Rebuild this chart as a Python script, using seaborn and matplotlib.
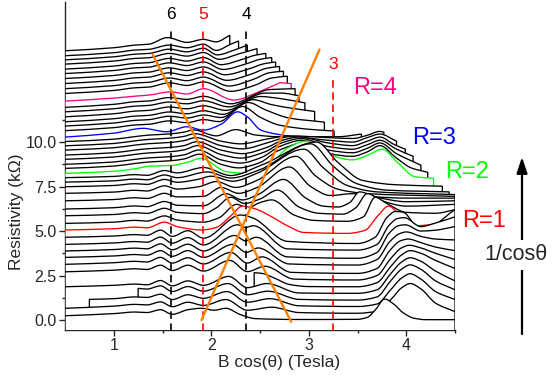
import numpy as np
import matplotlib
matplotlib.use('Agg')
import matplotlib.pyplot as plt
from matplotlib.path import Path
from matplotlib.patches import PathPatch
import seaborn as sns

sns.set_style('ticks')
plt.rcParams['font.family'] = ['Liberation Sans', 'DejaVu Sans']

# waterfall traces, bottom (theta = 0) to top, knots: (B cos(theta), rho + offset)
t01 = [(0.5, .24), (1.0, .36), (1.22, .45), (1.34, .42), (1.48, .58), (1.6, .32), (1.76, .58), (1.9, .66), (2.03, .55), (2.15, .66), (2.3, .3), (2.45, .08), (2.9, .03), (3.5, .04), (3.6, .15), (3.68, .55), (3.78, 1.18), (3.87, .9), (3.97, .4), (4.08, .1), (4.2, .02), (4.5, .02)]
t02 = [(0.5, .66), (1.0, .78), (1.22, .88), (1.34, .85), (1.48, 1.02), (1.6, .75), (1.76, 1.0), (1.92, .82), (2.15, 1.15), (2.37, .55), (2.62, .72), (2.9, .42), (3.5, .38), (3.7, .5), (3.85, 1.2), (3.95, 1.8), (4.04, 2.05), (4.15, 1.75), (4.3, .95), (4.5, .47)]
t03 = [(0.75, 1.16), (1.0, 1.2), (1.22, 1.3), (1.34, 1.27), (1.48, 1.45), (1.6, 1.15), (1.76, 1.42), (1.92, 1.22), (2.16, 1.6), (2.37, 1.0), (2.6, 1.2), (2.9, .8), (3.5, .76), (3.7, .9), (3.84, 1.7), (3.95, 2.35), (4.04, 2.6), (4.15, 2.3), (4.3, 1.6), (4.5, 1.15)]
t04 = [(1.25, 1.78), (1.34, 1.74), (1.48, 1.92), (1.6, 1.6), (1.76, 1.88), (1.92, 1.62), (2.17, 2.05), (2.37, 1.42), (2.58, 1.62), (2.9, 1.16), (3.5, 1.12), (3.7, 1.3), (3.84, 2.2), (3.95, 2.85), (4.04, 3.1), (4.15, 2.85), (4.3, 2.2), (4.5, 1.7)]
t05 = [(0.5, 1.87), (1.0, 1.95), (1.22, 2.02), (1.34, 1.98), (1.48, 2.22), (1.6, 1.92), (1.76, 2.2), (1.92, 1.95), (2.18, 2.45), (2.37, 1.82), (2.57, 2.05), (2.9, 1.52), (3.5, 1.5), (3.7, 1.7), (3.84, 2.6), (3.95, 3.25), (4.04, 3.5), (4.15, 3.3), (4.3, 2.75), (4.5, 2.2)]
t05b = [(2.44, 2.66), (2.52, 2.62), (2.65, 2.35), (2.8, 2.0), (3.0, 1.88), (3.5, 1.87), (3.7, 2.1), (3.84, 3.0), (3.95, 3.65), (4.04, 3.9), (4.15, 3.75), (4.3, 3.35), (4.5, 2.9)]
t06 = [(0.5, 2.71), (1.0, 2.8), (1.22, 2.88), (1.34, 2.84), (1.48, 3.08), (1.6, 2.78), (1.76, 3.08), (1.92, 2.75), (2.19, 3.35), (2.37, 2.72), (2.55, 3.02), (2.85, 2.3), (3.5, 2.25), (3.7, 2.5), (3.84, 3.45), (3.95, 4.05), (4.03, 4.2), (4.15, 4.05), (4.3, 3.75), (4.5, 3.4)]
t07 = [(0.5, 3.13), (1.0, 3.22), (1.22, 3.3), (1.34, 3.26), (1.48, 3.52), (1.6, 3.2), (1.76, 3.5), (1.92, 3.15), (2.2, 3.8), (2.37, 3.2), (2.52, 3.55), (2.82, 2.68), (3.5, 2.62), (3.7, 2.9), (3.83, 3.9), (3.94, 4.45), (4.02, 4.55), (4.15, 4.35), (4.3, 4.1), (4.5, 3.9)]
t08 = [(0.5, 3.52), (1.0, 3.6), (1.22, 3.68), (1.34, 3.64), (1.48, 3.9), (1.6, 3.58), (1.76, 3.9), (1.92, 3.52), (2.22, 4.25), (2.36, 3.8), (2.48, 4.05), (2.8, 3.15), (3.5, 3.09), (3.7, 3.4), (3.83, 4.4), (3.93, 4.85), (4.0, 4.95), (4.15, 4.7), (4.3, 4.55), (4.5, 4.5)]
t09 = [(0.5, 3.88), (1.0, 3.96), (1.22, 4.04), (1.34, 4.0), (1.48, 4.28), (1.6, 3.95), (1.76, 4.26), (1.92, 3.88), (2.24, 4.75), (2.35, 4.45), (2.46, 4.65), (2.78, 3.55), (3.5, 3.47), (3.7, 3.8), (3.82, 4.85), (3.92, 5.3), (3.99, 5.35), (4.15, 5.0), (4.3, 5.05), (4.5, 5.25)]
t10 = [(0.5, 4.25), (1.0, 4.33), (1.22, 4.41), (1.34, 4.37), (1.48, 4.66), (1.6, 4.32), (1.76, 4.63), (1.92, 4.22), (2.27, 5.35), (2.35, 5.2), (2.43, 5.3), (2.78, 4.0), (3.5, 3.93), (3.7, 4.25), (3.82, 5.3), (3.91, 5.7), (3.98, 5.75), (4.15, 5.25), (4.3, 5.45), (4.5, 5.8)]
t11 = [(0.5, 4.65), (1.0, 4.72), (1.22, 4.8), (1.34, 4.76), (1.48, 5.05), (1.6, 4.7), (1.76, 5.02), (1.92, 4.6), (2.3, 5.9), (2.42, 5.75), (2.78, 4.42), (3.5, 4.3), (3.68, 4.65), (3.8, 5.75), (3.89, 6.1), (3.97, 6.05), (4.15, 5.0), (4.5, 6.2)]
t12 = [(0.5, 5.06), (1.0, 5.13), (1.22, 5.22), (1.34, 5.18), (1.52, 5.5), (1.65, 5.25), (1.9, 5.06), (2.05, 5.2), (2.2, 5.85), (2.32, 6.4), (2.45, 6.25), (2.62, 5.8), (2.78, 5.3), (2.95, 4.92), (3.4, 4.87), (3.58, 5.05), (3.7, 5.8), (3.82, 6.4), (3.92, 6.0), (4.1, 5.3), (4.3, 5.4), (4.5, 5.75)]
t13 = [(0.5, 5.43), (1.0, 5.5), (1.22, 5.6), (1.34, 5.56), (1.52, 5.85), (1.65, 5.62), (1.92, 5.5), (2.08, 5.75), (2.26, 6.5), (2.37, 6.3), (2.5, 6.6), (2.62, 6.75), (2.85, 5.9), (3.05, 5.6), (3.4, 5.55), (3.56, 5.8), (3.68, 6.9), (3.8, 6.55), (4.0, 6.05), (4.3, 6.0), (4.5, 6.2)]
t14 = [(0.5, 5.86), (1.0, 5.93), (1.22, 6.03), (1.34, 5.99), (1.52, 6.28), (1.65, 6.05), (1.92, 5.98), (2.05, 6.3), (2.2, 6.9), (2.34, 6.55), (2.5, 6.8), (2.68, 7.3), (2.9, 6.35), (3.1, 6.0), (3.35, 5.95), (3.48, 6.3), (3.6, 7.1), (3.75, 6.7), (4.0, 6.4), (4.5, 6.5)]
t15 = [(0.5, 6.24), (1.0, 6.31), (1.22, 6.41), (1.34, 6.37), (1.52, 6.66), (1.65, 6.45), (1.92, 6.42), (2.15, 7.1), (2.32, 6.75), (2.48, 7.05), (2.74, 7.9), (2.97, 6.85), (3.15, 6.4), (3.3, 6.35), (3.42, 6.6), (3.52, 7.2), (3.7, 6.9), (4.0, 6.65), (4.5, 6.7)]
t16 = [(0.5, 6.7), (1.0, 6.77), (1.22, 6.87), (1.34, 6.83), (1.52, 7.12), (1.65, 6.92), (1.92, 6.95), (2.1, 7.45), (2.28, 7.12), (2.47, 7.45), (2.8, 8.6), (3.02, 7.5), (3.22, 7.0), (3.45, 7.1), (3.62, 6.95), (4.0, 6.85), (4.5, 6.85)]
t17 = [(0.5, 7.12), (1.0, 7.19), (1.22, 7.29), (1.34, 7.25), (1.52, 7.54), (1.65, 7.36), (1.88, 7.5), (2.05, 7.78), (2.25, 7.45), (2.47, 7.85), (2.87, 9.2), (3.07, 8.1), (3.3, 7.35), (3.6, 7.1), (4.5, 6.95)]
t18 = [(0.5, 7.49), (1.0, 7.56), (1.22, 7.66), (1.34, 7.62), (1.52, 7.9), (1.65, 7.74), (1.86, 7.9), (2.0, 8.08), (2.22, 7.8), (2.47, 8.25), (2.95, 9.6), (3.15, 8.55), (3.4, 7.55), (3.7, 7.2), (4.5, 7.05)]
t19 = [(0.5, 7.75), (1.0, 7.82), (1.22, 7.92), (1.34, 7.88), (1.52, 8.15), (1.65, 8.0), (1.96, 8.32), (2.2, 7.98), (2.5, 8.45), (3.02, 9.9), (3.25, 8.65), (3.5, 7.65), (3.8, 7.3), (4.44, 7.2)]
t20 = [(0.5, 8.0), (1.0, 8.07), (1.22, 8.17), (1.34, 8.13), (1.52, 8.4), (1.65, 8.27), (1.92, 8.57), (2.2, 8.12), (2.52, 8.72), (3.08, 10.0), (3.3, 8.85), (3.55, 7.85), (3.9, 7.6), (4.37, 7.52)]
t21 = [(0.5, 8.24), (1.0, 8.36), (1.22, 8.5), (1.37, 8.65), (1.58, 8.68), (1.75, 8.85), (1.89, 9.08), (2.16, 8.33), (2.37, 8.24), (2.65, 9.0), (2.78, 9.65), (2.97, 10.05), (3.2, 9.3), (3.45, 9.0), (3.62, 9.3), (3.75, 9.6), (3.92, 8.8), (4.09, 8.05), (4.28, 7.97)]
t22 = [(0.5, 8.52), (1.0, 8.65), (1.22, 8.8), (1.36, 8.88), (1.58, 8.95), (1.72, 9.05), (1.88, 9.32), (2.1, 8.75), (2.28, 8.55), (2.5, 8.85), (2.68, 9.5), (2.95, 9.95), (3.2, 9.35), (3.45, 9.2), (3.6, 9.45), (3.73, 9.8), (3.9, 9.1), (4.05, 8.55), (4.22, 8.3)]
t23 = [(0.5, 8.75), (1.0, 8.88), (1.22, 9.03), (1.36, 9.11), (1.58, 9.18), (1.72, 9.28), (1.87, 9.55), (2.1, 9.0), (2.3, 8.82), (2.52, 9.15), (2.7, 9.75), (2.93, 10.1), (3.2, 9.55), (3.45, 9.4), (3.6, 9.65), (3.73, 9.95), (3.9, 9.35), (4.15, 8.7)]
t24 = [(0.5, 9.03), (1.0, 9.16), (1.22, 9.31), (1.36, 9.39), (1.58, 9.46), (1.72, 9.56), (1.86, 9.8), (2.1, 9.3), (2.3, 9.1), (2.55, 9.45), (2.72, 9.95), (2.92, 10.2), (3.2, 9.75), (3.45, 9.6), (3.6, 9.85), (3.73, 10.1), (3.9, 9.6), (4.07, 9.2)]
t25 = [(0.5, 9.27), (1.0, 9.4), (1.22, 9.55), (1.36, 9.63), (1.58, 9.7), (1.72, 9.8), (1.85, 10.02), (2.1, 9.55), (2.32, 9.35), (2.57, 9.7), (2.74, 10.12), (2.9, 10.28), (3.2, 9.95), (3.45, 9.8), (3.6, 10.05), (3.73, 10.28), (3.88, 9.85), (3.99, 9.6)]
t26 = [(0.5, 9.55), (1.0, 9.68), (1.22, 9.83), (1.36, 9.91), (1.58, 9.98), (1.72, 10.08), (1.84, 10.25), (2.1, 9.8), (2.32, 9.62), (2.6, 10.0), (2.8, 10.3), (3.2, 10.1), (3.45, 10.0), (3.6, 10.25), (3.73, 10.45), (3.9, 10.05)]
t27 = [(0.5, 9.79), (1.0, 9.92), (1.22, 10.07), (1.36, 10.15), (1.58, 10.22), (1.72, 10.32), (1.83, 10.47), (2.1, 10.05), (2.3, 9.9), (2.6, 10.2), (2.8, 10.35), (3.2, 10.25), (3.45, 10.2), (3.6, 10.38), (3.73, 10.6), (3.77, 10.55)]
t28 = [(0.5, 10.03), (1.0, 10.16), (1.22, 10.31), (1.36, 10.39), (1.58, 10.46), (1.72, 10.56), (1.82, 10.68), (2.05, 10.35), (2.25, 10.7), (2.45, 10.4), (2.7, 10.3), (3.0, 10.3), (3.3, 10.3), (3.54, 10.45)]
t29 = [(0.5, 10.28), (1.0, 10.5), (1.3, 10.77), (1.54, 10.58), (1.75, 10.86), (1.92, 10.67), (2.1, 11.0), (2.27, 11.7), (2.37, 11.42), (2.51, 10.67), (2.82, 10.3), (2.95, 10.15), (3.35, 10.1)]
t30 = [(0.5, 10.64), (1.0, 10.81), (1.22, 10.96), (1.36, 11.0), (1.57, 11.19), (1.75, 11.09), (1.92, 11.26), (2.08, 11.15), (2.32, 12.0), (2.5, 11.4), (2.7, 10.95), (3.0, 10.72), (3.26, 10.62)]
t31 = [(0.5, 10.9), (1.0, 11.07), (1.22, 11.22), (1.36, 11.26), (1.57, 11.45), (1.75, 11.35), (1.92, 11.52), (2.1, 11.38), (2.38, 12.22), (2.56, 11.8), (2.8, 11.35), (3.16, 11.12)]
t32 = [(0.5, 11.14), (1.0, 11.31), (1.22, 11.46), (1.36, 11.5), (1.57, 11.69), (1.75, 11.59), (1.92, 11.76), (2.12, 11.56), (2.43, 12.38), (2.62, 12.1), (2.85, 11.88), (3.06, 11.72)]
t33 = [(0.5, 11.42), (1.0, 11.59), (1.22, 11.74), (1.36, 11.78), (1.57, 11.97), (1.75, 11.87), (1.92, 12.04), (2.15, 11.78), (2.5, 12.56), (2.7, 12.45), (2.96, 12.2)]
t34 = [(0.5, 11.7), (1.0, 11.87), (1.22, 12.02), (1.36, 12.06), (1.57, 12.25), (1.75, 12.15), (1.92, 12.32), (2.18, 11.98), (2.55, 12.75), (2.72, 12.75), (2.9, 12.6)]
t35 = [(0.5, 11.95), (1.0, 12.12), (1.22, 12.27), (1.36, 12.31), (1.57, 12.5), (1.75, 12.4), (1.92, 12.57), (2.2, 12.15), (2.6, 12.95), (2.86, 13.0)]
t36 = [(0.5, 12.3), (1.0, 12.47), (1.22, 12.58), (1.36, 12.64), (1.58, 12.82), (1.75, 12.7), (1.92, 13.0), (2.23, 12.36), (2.5, 12.85), (2.65, 13.2), (2.71, 13.33), (2.82, 13.28)]
t37 = [(0.5, 12.73), (1.0, 12.9), (1.22, 13.05), (1.36, 13.09), (1.57, 13.33), (1.75, 13.18), (1.92, 13.38), (2.2, 12.85), (2.45, 13.2), (2.62, 13.6), (2.78, 13.7)]
t38 = [(0.5, 13.0), (1.0, 13.17), (1.22, 13.32), (1.36, 13.36), (1.57, 13.6), (1.75, 13.45), (1.92, 13.65), (2.18, 13.15), (2.42, 13.5), (2.6, 13.9), (2.74, 13.98)]
t39 = [(0.5, 13.29), (1.0, 13.46), (1.22, 13.61), (1.36, 13.65), (1.57, 13.89), (1.75, 13.74), (1.92, 13.94), (2.16, 13.47), (2.4, 13.8), (2.57, 14.15), (2.7, 14.25)]
t40 = [(0.5, 13.57), (1.0, 13.74), (1.22, 13.89), (1.36, 13.93), (1.57, 14.17), (1.75, 14.02), (1.92, 14.22), (2.14, 13.78), (2.38, 14.1), (2.54, 14.4), (2.66, 14.5)]
t41 = [(0.5, 13.85), (1.0, 14.02), (1.22, 14.17), (1.36, 14.21), (1.57, 14.45), (1.75, 14.3), (1.92, 14.5), (2.12, 14.08), (2.36, 14.4), (2.5, 14.65), (2.62, 14.75)]
t42 = [(0.5, 14.1), (1.0, 14.27), (1.22, 14.42), (1.36, 14.46), (1.57, 14.7), (1.75, 14.55), (1.92, 14.75), (2.1, 14.35), (2.32, 14.65), (2.45, 14.88), (2.56, 14.98)]
t43 = [(0.5, 14.38), (1.0, 14.55), (1.22, 14.7), (1.36, 14.74), (1.57, 14.98), (1.75, 14.83), (1.92, 15.03), (2.08, 14.65), (2.28, 14.95), (2.47, 15.25)]
t44 = [(0.5, 14.62), (1.0, 14.79), (1.22, 14.94), (1.36, 14.98), (1.57, 15.22), (1.75, 15.07), (1.92, 15.27), (2.06, 14.9), (2.25, 15.2), (2.37, 15.45)]
t45 = [(0.5, 14.85), (1.0, 15.02), (1.22, 15.17), (1.36, 15.21), (1.57, 15.45), (1.75, 15.3), (1.92, 15.5), (2.05, 15.15), (2.2, 15.5), (2.28, 15.68)]
t46 = [(0.5, 15.13), (1.0, 15.3), (1.22, 15.45), (1.36, 15.5), (1.55, 15.87), (1.75, 15.6), (1.92, 15.77), (2.05, 15.63), (2.19, 16.0)]

traces = [t01, t02, t03, t04, t05, t05b, t06, t07, t08, t09, t10, t11, t12, t13, t14, t15,
          t16, t17, t18, t19, t20, t21, t22, t23, t24, t25, t26, t27, t28, t29, t30, t31,
          t32, t33, t34, t35, t36, t37, t38, t39, t40, t41, t42, t43, t44, t45, t46]
# coloured traces by position in the stack: R=1, R=2, R=3, R=4
highlight = {12: '#FF0000', 21: '#00FF00', 29: '#0000FF', 36: '#FF0080'}

# filling-factor markers
nu_x = [1.59, 1.92, 2.36, 3.25]
nu_text = ['6', '5', '4', '3']
nu_color = ['black', 'red', 'black', 'red']
nu_top = [16.4, 16.4, 16.4, 13.5]
nu_label_y = [17.15, 17.15, 17.15, 14.35]

# orange guide lines
guide1_x, guide1_y = [1.40, 2.82], [14.9, -0.1]
guide2_x, guide2_y = [1.90, 3.11], [0.0, 15.2]

r_text = ['R=4', 'R=3', 'R=2', 'R=1']
r_x = [3.68, 4.28, 4.62, 4.80]
r_y = [13.03, 10.25, 8.29, 5.56]
r_color = ['#FF0080', '#0000FF', '#00FF00', '#FF0000']

FLOOR = -5.0


def smooth_segments(pts):
    # monotone cubic through the knots, as bezier segments
    x = np.array([p[0] for p in pts], float)
    y = np.array([p[1] for p in pts], float)
    h = np.diff(x)
    d = np.diff(y) / h
    m = np.zeros_like(y)
    m[0], m[-1] = d[0], d[-1]
    for i in range(1, len(x) - 1):
        if d[i - 1] * d[i] > 0:
            w1 = 2 * h[i] + h[i - 1]
            w2 = h[i] + 2 * h[i - 1]
            m[i] = (w1 + w2) / (w1 / d[i - 1] + w2 / d[i])
    verts, codes = [], []
    for i in range(len(x) - 1):
        verts += [(x[i] + h[i] / 3, y[i] + m[i] * h[i] / 3),
                  (x[i + 1] - h[i] / 3, y[i + 1] - m[i + 1] * h[i] / 3),
                  (x[i + 1], y[i + 1])]
        codes += [Path.CURVE4] * 3
    return verts, codes


fig = plt.figure(figsize=(5.52, 3.78), dpi=100)
ax = fig.add_axes([0.1178, 0.127, 0.7065, 0.8677])

n = len(traces)
for i, pts in enumerate(traces):
    x0, y0 = pts[0]
    x1 = pts[-1][0]
    cv, cc = smooth_segments(pts)
    z = 10 + 2 * (n - i)
    fill = Path([(x0, FLOOR), (x0, y0)] + cv + [(x1, FLOOR), (x0, FLOOR)],
                [Path.MOVETO, Path.LINETO] + cc + [Path.LINETO, Path.CLOSEPOLY])
    ax.add_patch(PathPatch(fill, facecolor='white', edgecolor='none', lw=0, zorder=z))
    edge = Path([(x0, FLOOR), (x0, y0)] + cv + [(x1, FLOOR)],
                [Path.MOVETO, Path.LINETO] + cc + [Path.LINETO])
    col = highlight.get(i, 'black')
    ax.add_patch(PathPatch(edge, facecolor='none', edgecolor=col, lw=0.95, zorder=z + 1))

for xv, lab, c, top, ly in zip(nu_x, nu_text, nu_color, nu_top, nu_label_y):
    ax.plot([xv, xv], [-0.6, top], color=c, lw=1.2, ls=(0, (4.5, 2.8)), zorder=200, clip_on=False)
    ax.text(xv, ly, lab, color=c, fontsize=12.5, ha='center', va='center', zorder=200)

sns.lineplot(x=guide1_x, y=guide1_y, color='#FF8000', lw=1.7, ax=ax, zorder=300)
sns.lineplot(x=guide2_x, y=guide2_y, color='#FF8000', lw=1.7, ax=ax, zorder=300)

for t, xv, yv, c in zip(r_text, r_x, r_y, r_color):
    ax.text(xv, yv, t, color=c, fontsize=17, ha='center', va='center', clip_on=False)

ax.set_xlim(0.5, 4.5)
ax.set_ylim(-0.56, 17.87)
ax.set_xticks([1, 2, 3, 4])
ax.set_xticks([1.5, 2.5, 3.5, 4.5], minor=True)
ax.set_yticks([0, 2.5, 5.0, 7.5, 10.0])
ax.set_yticklabels(['0.0', '2.5', '5.0', '7.5', '10.0'])
ax.set_yticks([1.25, 3.75, 6.25, 8.75, 11.25], minor=True)
ax.tick_params(which='major', length=4, width=1, labelsize=11.5, pad=2)
ax.tick_params(which='minor', length=2.5, width=1)
sns.despine(ax=ax)
ax.spines['left'].set_linewidth(1)
ax.spines['bottom'].set_linewidth(1)
ax.set_xlabel('B cos(θ) (Tesla)', fontsize=12.5)
ax.set_ylabel('Resistivity (kΩ)', fontsize=12.5)
ax.xaxis.set_label_coords(0.55, -0.075)
ax.yaxis.set_label_coords(-0.105, 0.36)

# 1/cos(theta) arrow at the right
ax.annotate('', xy=(522, 221), xytext=(522, 44), xycoords='figure pixels',
            arrowprops=dict(arrowstyle='-|>,head_length=0.6,head_width=0.2',
                            lw=1.6, color='black', mutation_scale=16, shrinkA=0, shrinkB=0))
fig.text(516 / 552, 123 / 378, '1/cosθ', fontsize=15.5, ha='center', va='center',
         bbox=dict(facecolor='white', edgecolor='none', pad=3))

fig.savefig('out.png', dpi=100)
